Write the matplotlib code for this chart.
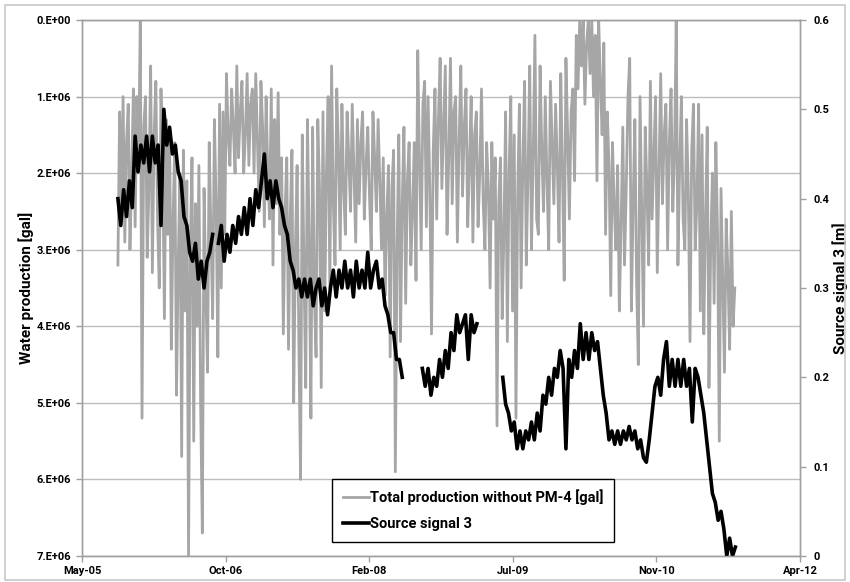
import numpy as np
import pandas as pd
import matplotlib
matplotlib.use("Agg")
import matplotlib.pyplot as plt
import matplotlib.dates as mdates
from matplotlib.patches import Rectangle

nan = float("nan")

# total production without PM-4, million gallons, one value every 6 days from 2005-09-30
production_start = "2005-09-30"
production_mgal = [
    3.2, 1.2, 2.4, 1.0, 2.9, 1.6, 1.1, 3.0, 2.0, 0.9,
    2.7, 1.0, 1.8, 0.0, 5.2, 1.4, 1.0, 3.1, 2.2, 0.6,
    3.3, 1.5, 0.8, 2.6, 3.5, 0.9, 1.9, 3.9, 1.3, 2.8,
    1.4, 4.3, 2.6, 1.6, 4.9, 3.2, 2.0, 5.7, 1.7, 3.8,
    2.1, 7.0, 3.0, 1.8, 5.5, 2.4, 4.0, 1.9, 5.0, 6.7,
    2.2, 3.5, 4.6, 1.6, 2.8, 3.9, 1.3, 2.4, 4.4, 1.1,
    3.5, 1.2, 2.8, 0.7, 1.5, 1.9, 0.9, 1.4, 2.0, 0.6,
    1.8, 1.2, 0.8, 2.0, 1.5, 0.7, 1.9, 1.1, 0.9, 2.0,
    0.7, 1.6, 2.5, 0.8, 1.4, 2.7, 1.0, 2.0, 2.6, 0.9,
    3.2, 1.3, 2.4, 0.95, 2.8, 1.8, 4.1, 2.5, 1.8, 4.3,
    2.6, 1.7, 5.0, 3.0, 1.9, 4.2, 6.0, 1.5, 3.3, 4.8,
    1.3, 2.9, 5.2, 1.4, 3.6, 4.4, 1.3, 2.2, 4.8, 1.2,
    3.8, 2.0, 1.0, 3.5, 0.6, 2.4, 3.2, 0.9, 1.7, 3.0,
    1.1, 2.2, 2.8, 1.2, 1.8, 2.5, 1.1, 2.0, 2.9, 1.3,
    2.4, 1.6, 1.2, 2.6, 1.9, 1.4, 2.3, 3.0, 1.2, 1.8,
    2.5, 1.3, 2.1, 3.0, 1.8, 3.6, 2.6, 1.9, 4.4, 2.2,
    1.7, 5.9, 3.0, 1.5, 4.2, 2.4, 1.4, 3.7, 2.1, 1.6,
    3.2, 2.5, 1.6, 3.4, 0.4, 1.8, 3.0, 1.1, 0.8, 2.7,
    1.0, 2.2, 4.1, 1.7, 0.9, 2.6, 1.3, 0.5, 2.2, 1.4,
    0.6, 2.8, 1.8, 0.5, 2.4, 1.2, 1.0, 2.9, 1.6, 0.6,
    2.3, 1.4, 0.9, 2.7, 1.9, 1.0, 2.9, 1.5, 1.2, 2.7,
    2.0, 0.9, 2.4, 3.0, 1.6, 2.2, 3.5, 1.6, 2.6, 1.8,
    5.3, 2.4, 1.8, 3.9, 2.8, 1.2, 4.2, 2.0, 1.0, 3.8,
    1.5, 5.2, 2.3, 1.1, 3.5, 1.9, 0.8, 3.2, 2.0, 0.6,
    3.0, 1.8, 0.2, 2.6, 2.8, 0.6, 1.7, 2.5, 1.0, 2.1,
    3.0, 0.8, 1.6, 2.4, 1.1, 1.9, 2.9, 0.7, 2.0, 3.4,
    0.5, 1.5, 2.6, 1.2, 0.9, 2.1, 0.2, 0.9, 0.0, 0.6,
    0.0, 1.1, 0.3, 0.0, 0.7, 0.0, 1.0, 0.2, 2.1, 0.0,
    0.8, 1.5, 0.3, 2.8, 1.2, 1.9, 3.6, 1.6, 2.4, 3.0,
    1.9, 3.8, 2.7, 1.4, 3.2, 2.2, 1.0, 0.5, 3.8, 2.4,
    1.3, 3.4, 4.5, 1.0, 2.5, 4.0, 1.4, 2.2, 3.2, 0.8,
    2.6, 1.8, 1.0, 3.3, 2.0, 0.7, 2.4, 1.5, 1.1, 3.0,
    1.6, 0.9, 2.5, 1.8, 0.0, 3.2, 1.9, 1.0, 2.6, 3.0,
    1.3, 2.2, 4.2, 1.7, 1.1, 3.0, 2.4, 1.1, 3.8, 1.5,
    4.1, 2.6, 1.4, 4.8, 3.0, 2.0, 3.7, 1.6, 2.8, 5.5,
    2.2, 3.4, 4.6, 2.6, 3.3, 4.3, 2.5, 4.0, 3.5,
]

# source signal 3 in metres, one value every 10 days, gaps where no data
signal_start = "2005-09-30"
signal_m = [
    0.40, 0.37, 0.41, 0.38, 0.42, 0.39, 0.47, 0.43, 0.46, 0.44,
    0.47, 0.43, 0.47, 0.44, 0.46, 0.37, 0.50, 0.46, 0.48, 0.45,
    0.46, 0.43, 0.42, 0.38, 0.37, 0.34, 0.33, 0.35, 0.31, 0.33,
    0.30, 0.33, 0.34, 0.36, nan, 0.35, 0.37, 0.33, 0.36, 0.34,
    0.37, 0.35, 0.38, 0.36, 0.39, 0.36, 0.40, 0.37, 0.41, 0.39,
    0.42, 0.45, 0.40, 0.42, 0.39, 0.42, 0.40, 0.39, 0.37, 0.36,
    0.33, 0.32, 0.30, 0.31, 0.29, 0.31, 0.29, 0.31, 0.28, 0.30,
    0.31, 0.28, 0.30, 0.27, 0.30, 0.32, 0.29, 0.32, 0.30, 0.33,
    0.30, 0.32, 0.29, 0.33, 0.30, 0.32, 0.30, 0.34, 0.30, 0.32,
    0.33, 0.30, 0.31, 0.28, 0.27, 0.25, 0.25, 0.22, 0.22, 0.20,
    nan, nan, nan, nan, nan, nan, 0.21, 0.19, 0.21, 0.18,
    0.20, 0.19, 0.22, 0.20, 0.23, 0.21, 0.25, 0.23, 0.27, 0.25,
    0.26, 0.27, 0.22, 0.27, 0.25, 0.26, nan, nan, nan, nan,
    nan, nan, nan, nan, 0.20, 0.17, 0.16, 0.14, 0.15, 0.12,
    0.14, 0.12, 0.14, 0.13, 0.15, 0.13, 0.16, 0.14, 0.18, 0.17,
    0.20, 0.18, 0.21, 0.20, 0.23, 0.21, 0.12, 0.22, 0.20, 0.23,
    0.21, 0.26, 0.22, 0.25, 0.22, 0.25, 0.23, 0.24, 0.21, 0.18,
    0.16, 0.13, 0.14, 0.125, 0.14, 0.125, 0.14, 0.13, 0.145, 0.13,
    0.14, 0.12, 0.13, 0.11, 0.105, 0.13, 0.16, 0.19, 0.20, 0.18,
    0.22, 0.24, 0.19, 0.22, 0.19, 0.22, 0.19, 0.22, 0.19, 0.21,
    0.15, 0.21, 0.20, 0.18, 0.16, 0.13, 0.10, 0.07, 0.06, 0.04,
    0.05, 0.03, 0.0, 0.02, 0.0, 0.01,
]

x_ticks = ["2005-05-28", "2006-10-10", "2008-02-22", "2009-07-06", "2010-11-18", "2012-04-01"]
left_ticks = [0, 1e6, 2e6, 3e6, 4e6, 5e6, 6e6, 7e6]
left_ticklabels = ["0.E+00", "1.E+06", "2.E+06", "3.E+06", "4.E+06", "5.E+06", "6.E+06", "7.E+06"]
right_ticks = [0, 0.1, 0.2, 0.3, 0.4, 0.5, 0.6]
right_ticklabels = ["0", "0.1", "0.2", "0.3", "0.4", "0.5", "0.6"]

plt.rcParams['font.family'] = ['Roboto', 'DejaVu Sans']

prod_dates = pd.date_range(production_start, periods=len(production_mgal), freq="6D")
sig_dates = pd.date_range(signal_start, periods=len(signal_m), freq="10D")
prod = np.array(production_mgal) * 1e6

fig = plt.figure(figsize=(8.5, 5.82), dpi=100)
fig.patches.append(Rectangle((0.006, 0.004), 0.988, 0.988, transform=fig.transFigure,
                             fill=False, edgecolor="#c8c8c8", lw=1.2))

ax = fig.add_axes([82/850, 26/582, 718/850, 536/582])
ax2 = ax.twinx()

gray = "#a6a6a6"
l1, = ax.plot(prod_dates, prod, color=gray, lw=2.0)
l2, = ax2.plot(sig_dates, signal_m, color="black", lw=2.6)

tick_dates = pd.to_datetime(x_ticks)
ax.set_xlim(tick_dates[0], tick_dates[-1])
ax.set_xticks(tick_dates)
ax.xaxis.set_major_formatter(mdates.DateFormatter("%b-%y"))

ax.set_ylim(7e6, 0)
ax.set_yticks(left_ticks)
ax.set_yticklabels(left_ticklabels)
ax2.set_ylim(0, 0.6)
ax2.set_yticks(right_ticks)
ax2.set_yticklabels(right_ticklabels)

ax.grid(axis="y", color="#bdbdbd", lw=1)
ax.set_axisbelow(True)

for a in (ax, ax2):
    for s in a.spines.values():
        s.set_color("#a0a0a0")
        s.set_linewidth(1)
    a.tick_params(colors="#a0a0a0", length=4, width=1, labelcolor="black")
    for lab in a.get_xticklabels() + a.get_yticklabels():
        lab.set_fontweight("bold")
        lab.set_fontsize(8)
ax.tick_params(axis="x", pad=3)
ax.tick_params(axis="y", pad=4)
ax2.tick_params(axis="y", pad=6)

ax.set_ylabel("Water production [gal]", fontsize=11, fontweight="bold")
ax2.set_ylabel("Source signal 3 [m]", fontsize=11, fontweight="bold")
ax.yaxis.set_label_coords(-0.067, 0.5)
ax2.yaxis.set_label_coords(1.045, 0.5)

leg = ax2.legend([l1, l2], ["Total production without PM-4 [gal]", "Source signal 3"],
                 loc="lower left", bbox_to_anchor=(0.348, 0.026), borderaxespad=0,
                 fancybox=False, edgecolor="black", framealpha=1, handlelength=1.8,
                 handletextpad=0.05, labelspacing=0.8, borderpad=0.75,
                 prop={"weight": "bold", "size": 10.5})
leg.get_frame().set_linewidth(1)

fig.savefig("out.png", dpi=100)
